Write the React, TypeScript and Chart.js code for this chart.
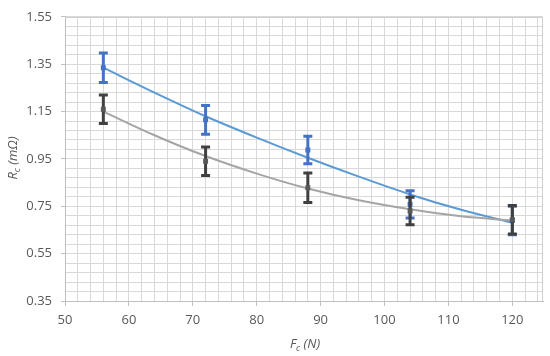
import React, { useEffect, useRef } from 'react';
import { Chart, registerables } from 'chart.js';

Chart.register(...registerables);

// ---- data ----
const forceN = [56, 72, 88, 104, 120];
const blueRc = [1.335, 1.115, 0.988, 0.758, 0.69];
const blueErr = [0.062, 0.061, 0.058, 0.058, 0.06];
const grayRc = [1.16, 0.94, 0.828, 0.73, 0.693];
const grayErr = [0.06, 0.06, 0.062, 0.058, 0.06];

const trendX = [56, 64, 72, 80, 88, 96, 104, 112, 120];
const blueTrend = [1.335, 1.23, 1.13, 1.04, 0.955, 0.875, 0.8, 0.735, 0.68];
const grayTrend = [1.15, 1.05, 0.962, 0.888, 0.825, 0.775, 0.737, 0.708, 0.69];

const xTickLabels = [50, 60, 70, 80, 90, 100, 110, 120];
const yTickLabels = ['0.35', '0.55', '0.75', '0.95', '1.15', '1.35', '1.55'];

const X_MIN = 50;
const X_MAX = 124.8;
const X_MINOR = 2;
const Y_MIN = 0.35;
const Y_MAX = 1.55;
const Y_MINOR = 0.04;

const TEXT = '#595959';
const GRID = '#d9d9d9';
const AXIS = '#bfbfbf';
const FONT = '"Open Sans", "DejaVu Sans", sans-serif';

const isXMajor = (v: number) => xTickLabels.some((t) => Math.abs(t - v) < 1e-6);
const yLabelFor = (v: number) => yTickLabels.find((t) => Math.abs(parseFloat(t) - v) < 1e-6);

const errorBarPlugin = {
  id: 'errorBars',
  beforeDatasetDraw(chart: any, args: any) {
    const ds = chart.data.datasets[args.index];
    if (!ds.errors) return;
    const { ctx, scales, chartArea } = chart;
    const xs = scales.x;
    const ys = scales.y;
    ctx.save();
    ctx.beginPath();
    ctx.rect(chartArea.left, chartArea.top, chartArea.right - chartArea.left, chartArea.bottom - chartArea.top);
    ctx.clip();
    ctx.strokeStyle = ds.errorColor;
    ctx.lineWidth = 3;
    ctx.lineCap = 'butt';
    ds.data.forEach((p: any, i: number) => {
      const e = ds.errors[i];
      const x = xs.getPixelForValue(p.x);
      const yt = ys.getPixelForValue(p.y + e);
      const yb = ys.getPixelForValue(p.y - e);
      ctx.beginPath();
      ctx.moveTo(x, yt);
      ctx.lineTo(x, yb);
      ctx.moveTo(x - 4.5, yt);
      ctx.lineTo(x + 4.5, yt);
      ctx.moveTo(x - 4.5, yb);
      ctx.lineTo(x + 4.5, yb);
      ctx.stroke();
    });
    ctx.restore();
  },
};

function drawSubTitle(ctx: CanvasRenderingContext2D, main: string, sub: string, rest: string) {
  const mainFont = `italic 13px ${FONT}`;
  const subFont = `italic 9px ${FONT}`;
  ctx.font = mainFont;
  const w1 = ctx.measureText(main).width;
  const w3 = ctx.measureText(rest).width;
  ctx.font = subFont;
  const w2 = ctx.measureText(sub).width;
  const total = w1 + w2 + w3;
  let x = -total / 2;
  ctx.textBaseline = 'alphabetic';
  ctx.textAlign = 'left';
  ctx.font = mainFont;
  ctx.fillText(main, x, 4.5);
  x += w1;
  ctx.font = subFont;
  ctx.fillText(sub, x, 7.5);
  x += w2;
  ctx.font = mainFont;
  ctx.fillText(rest, x, 4.5);
}

const framePlugin = {
  id: 'frameAndTitles',
  afterDraw(chart: any) {
    const { ctx, chartArea } = chart;
    ctx.save();
    ctx.strokeStyle = '#cfcfcf';
    ctx.lineWidth = 1;
    ctx.beginPath();
    ctx.moveTo(chartArea.left, Math.round(chartArea.top) + 0.5);
    ctx.lineTo(Math.round(chartArea.right) - 0.5, Math.round(chartArea.top) + 0.5);
    ctx.lineTo(Math.round(chartArea.right) - 0.5, chartArea.bottom);
    ctx.stroke();
    ctx.fillStyle = TEXT;
    // x title
    ctx.save();
    ctx.translate(305, 343);
    drawSubTitle(ctx, 'F', 'c', ' (N)');
    ctx.restore();
    // y title
    ctx.save();
    ctx.translate(12, 158);
    ctx.rotate(-Math.PI / 2);
    drawSubTitle(ctx, 'R', 'c', ' (mΩ)');
    ctx.restore();
    ctx.restore();
  },
};

export default function App() {
  const canvasRef = useRef<HTMLCanvasElement | null>(null);

  useEffect(() => {
    document.body.style.margin = '0';
    const canvas = canvasRef.current;
    if (!canvas) return;

    const chart = new Chart(canvas, {
      type: 'scatter',
      data: {
        datasets: [
          {
            label: 'Series 2',
            data: forceN.map((x, i) => ({ x, y: grayRc[i] })),
            errors: grayErr,
            errorColor: '#404040',
            showLine: false,
            pointStyle: 'rect',
            pointRadius: 3.5,
            backgroundColor: '#595959',
            borderColor: '#595959',
            borderWidth: 0,
            order: 0,
          } as any,
          {
            label: 'Series 1',
            data: forceN.map((x, i) => ({ x, y: blueRc[i] })),
            errors: blueErr,
            errorColor: '#4472C4',
            showLine: false,
            pointStyle: 'rect',
            pointRadius: 3.5,
            backgroundColor: '#4472C4',
            borderColor: '#4472C4',
            borderWidth: 0,
            order: 1,
          } as any,
          {
            label: 'Trend 2',
            data: trendX.map((x, i) => ({ x, y: grayTrend[i] })),
            showLine: true,
            pointRadius: 0,
            borderColor: '#A5A5A5',
            borderWidth: 2,
            cubicInterpolationMode: 'monotone',
            order: 2,
          } as any,
          {
            label: 'Trend 1',
            data: trendX.map((x, i) => ({ x, y: blueTrend[i] })),
            showLine: true,
            pointRadius: 0,
            borderColor: '#5B9BD5',
            borderWidth: 2,
            cubicInterpolationMode: 'monotone',
            order: 3,
          } as any,
        ],
      },
      options: {
        animation: false,
        responsive: false,
        maintainAspectRatio: false,
        layout: { padding: { left: 0, right: 7, top: 14, bottom: 0 } },
        plugins: {
          legend: { display: false },
          tooltip: { enabled: false },
        },
        scales: {
          x: {
            type: 'linear',
            position: 'bottom',
            min: X_MIN,
            max: X_MAX,
            afterBuildTicks: (scale: any) => {
              const ticks = [];
              for (let v = X_MIN; v <= X_MAX + 1e-9; v += X_MINOR) ticks.push({ value: v });
              scale.ticks = ticks;
            },
            afterFit: (scale: any) => {
              scale.height = 55;
            },
            grid: {
              color: GRID,
              lineWidth: 1,
              tickLength: 5,
              tickColor: (c: any) => (c.tick && isXMajor(c.tick.value) ? AXIS : 'rgba(0,0,0,0)'),
            },
            border: { color: AXIS, width: 1 },
            ticks: {
              autoSkip: false,
              maxRotation: 0,
              minRotation: 0,
              padding: 6,
              color: TEXT,
              font: { family: FONT, size: 13 },
              callback: (v: any) => (isXMajor(Number(v)) ? String(Math.round(Number(v))) : ''),
            },
          },
          y: {
            type: 'linear',
            min: Y_MIN,
            max: Y_MAX,
            afterBuildTicks: (scale: any) => {
              const ticks = [];
              const n = Math.round((Y_MAX - Y_MIN) / Y_MINOR);
              for (let i = 0; i <= n; i++) ticks.push({ value: Math.round((Y_MIN + i * Y_MINOR) * 1000) / 1000 });
              scale.ticks = ticks;
            },
            afterFit: (scale: any) => {
              scale.width = 65;
            },
            grid: {
              color: GRID,
              lineWidth: 1,
              tickLength: 4,
              tickColor: (c: any) => (c.tick && yLabelFor(c.tick.value) ? AXIS : 'rgba(0,0,0,0)'),
            },
            border: { color: AXIS, width: 1 },
            ticks: {
              autoSkip: false,
              padding: 9,
              color: TEXT,
              font: { family: FONT, size: 13 },
              callback: (v: any) => yLabelFor(Number(v)) || '',
            },
          },
        },
      } as any,
      plugins: [errorBarPlugin, framePlugin],
    });

    return () => chart.destroy();
  }, []);

  return (
    <div style={{ width: 550, height: 356 }}>
      <canvas ref={canvasRef} width={550} height={356} style={{ display: 'block' }} />
    </div>
  );
}
